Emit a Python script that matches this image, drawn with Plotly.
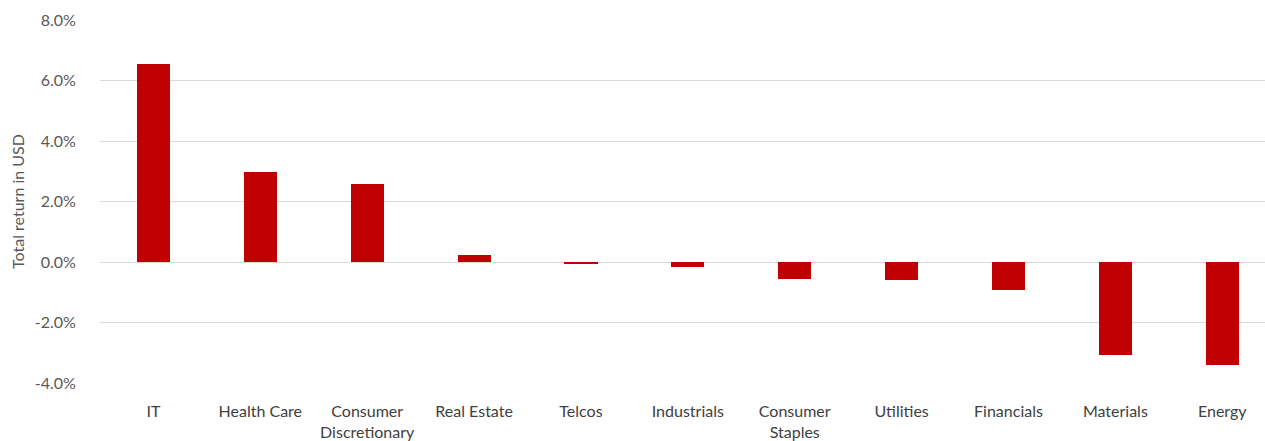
import plotly.graph_objects as go

sectors = ["IT", "Health Care", "Consumer<br>Discretionary", "Real Estate", "Telcos",
           "Industrials", "Consumer<br>Staples", "Utilities", "Financials", "Materials", "Energy"]
returns = [6.55, 2.97, 2.57, 0.22, -0.07, -0.18, -0.57, -0.61, -0.94, -3.07, -3.40]
y_ticks = [-4, -2, 0, 2, 4, 6, 8]
y_tick_labels = ["-4.0%", "-2.0%", "0.0%", "2.0%", "4.0%", "6.0%", "8.0%"]

fig = go.Figure(go.Bar(
    x=list(range(len(sectors))),
    y=returns,
    width=0.31,
    marker=dict(color="#c00000", line=dict(width=0)),
))

fig.update_layout(
    width=1265, height=441,
    margin=dict(l=100, r=0, t=20, b=58),
    paper_bgcolor="white", plot_bgcolor="white",
    font=dict(family="Lato, Open Sans, sans-serif", size=16, color="#595959"),
    showlegend=False,
    bargap=0,
)
fig.update_xaxes(
    range=[-0.5, 10.4],
    tickmode="array", tickvals=list(range(len(sectors))), ticktext=sectors,
    showgrid=False, zeroline=False, showline=False,
    ticks="outside", ticklen=14, tickcolor="rgba(0,0,0,0)",
    tickfont=dict(size=16, color="#404040"),
)
fig.update_yaxes(
    range=[-4, 8],
    tickmode="array", tickvals=y_ticks, ticktext=y_tick_labels,
    showgrid=True, gridcolor="#d9d9d9", gridwidth=1,
    zeroline=True, zerolinecolor="#d9d9d9", zerolinewidth=1,
    showline=False, ticks="outside", ticklen=20, tickcolor="rgba(0,0,0,0)",
    tickfont=dict(size=16, color="#595959"),
    title=dict(text="Total return in USD", font=dict(size=16, color="#595959"), standoff=6),
)

fig.write_html("out.html")
